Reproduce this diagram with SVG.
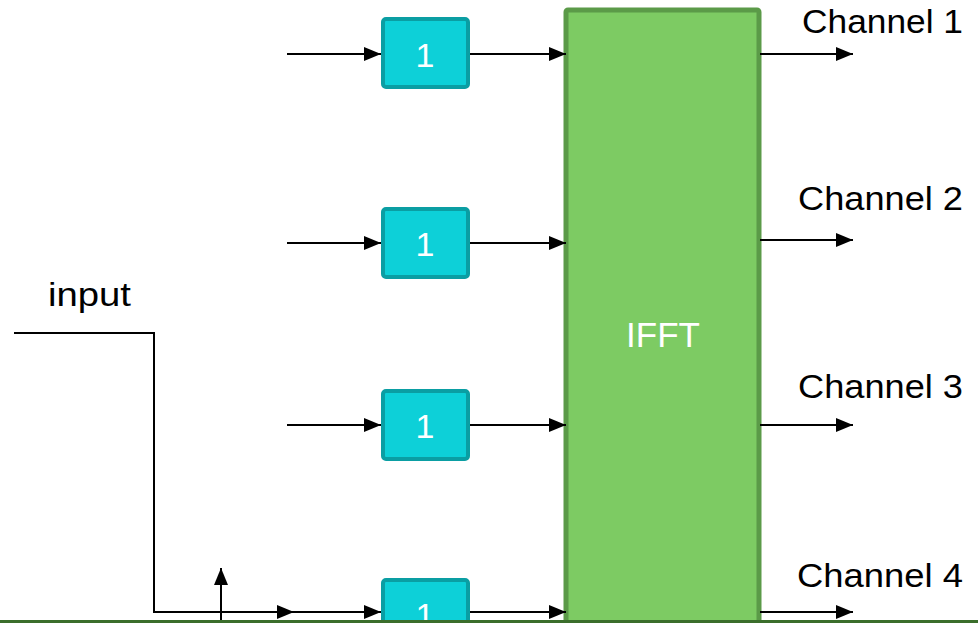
<svg xmlns="http://www.w3.org/2000/svg" width="978" height="623" viewBox="0 0 978 623">
  <defs>
    <marker id="arrow" markerWidth="17" markerHeight="14" refX="17" refY="7" orient="auto" markerUnits="userSpaceOnUse">
      <path d="M0,0 L17,7 L0,14 Z" fill="#000"/>
    </marker>
    <style>
      .wire { stroke: #000; stroke-width: 2; fill: none; }
      .gain rect { fill: #0DD0D8; stroke: #0A9EA3; stroke-width: 4; }
      .gain text { fill: #fff; font-family: "Liberation Sans", Arial, sans-serif; font-size: 34px; text-anchor: middle; }
      .label { fill: #000; font-family: "Liberation Sans", Arial, sans-serif; font-size: 33px; }
    </style>
  </defs>
  <rect width="978" height="623" fill="#fff"/>

  <!-- IFFT block -->
  <g id="ifft">
    <rect x="566" y="10" width="193" height="640" rx="2" fill="#7DCB63" stroke="#5B9A48" stroke-width="5"/>
    <text x="663" y="347" fill="#fff" font-family="Liberation Sans, Arial, sans-serif" font-size="35" text-anchor="middle">IFFT</text>
  </g>

  <!-- gain blocks -->
  <g id="gain1" class="gain">
    <rect x="383" y="19" width="85" height="68" rx="3"/>
    <text x="425" y="67">1</text>
  </g>
  <g id="gain2" class="gain">
    <rect x="383" y="209" width="85" height="68" rx="3"/>
    <text x="425" y="256">1</text>
  </g>
  <g id="gain3" class="gain">
    <rect x="383" y="391" width="85" height="68" rx="3"/>
    <text x="425" y="438">1</text>
  </g>
  <g id="gain4" class="gain">
    <rect x="383" y="580" width="85" height="68" rx="3"/>
    <text x="425" y="627">1</text>
  </g>

  <!-- connectors -->
  <g id="connectors">
    <line class="wire" x1="287" y1="54" x2="381" y2="54" marker-end="url(#arrow)"/>
    <line class="wire" x1="470" y1="54" x2="566" y2="54" marker-end="url(#arrow)"/>
    <line class="wire" x1="760" y1="54" x2="853" y2="54" marker-end="url(#arrow)"/>

    <line class="wire" x1="287" y1="243" x2="381" y2="243" marker-end="url(#arrow)"/>
    <line class="wire" x1="470" y1="243" x2="566" y2="243" marker-end="url(#arrow)"/>
    <line class="wire" x1="760" y1="240" x2="853" y2="240" marker-end="url(#arrow)"/>

    <line class="wire" x1="287" y1="425" x2="381" y2="425" marker-end="url(#arrow)"/>
    <line class="wire" x1="470" y1="425" x2="566" y2="425" marker-end="url(#arrow)"/>
    <line class="wire" x1="760" y1="425" x2="853" y2="425" marker-end="url(#arrow)"/>

    <polyline class="wire" points="14,333 154,333 154,612 294,612" marker-end="url(#arrow)"/>
    <line class="wire" x1="292" y1="612" x2="381" y2="612" marker-end="url(#arrow)"/>
    <line class="wire" x1="470" y1="612" x2="566" y2="612" marker-end="url(#arrow)"/>
    <line class="wire" x1="760" y1="612" x2="853" y2="612" marker-end="url(#arrow)"/>

    <line class="wire" x1="221" y1="623" x2="221" y2="568" marker-end="url(#arrow)"/>
  </g>

  <!-- labels -->
  <text class="label" x="802" y="33" textLength="161" lengthAdjust="spacingAndGlyphs">Channel 1</text>
  <text class="label" x="798" y="210" textLength="165" lengthAdjust="spacingAndGlyphs">Channel 2</text>
  <text class="label" x="798" y="398" textLength="165" lengthAdjust="spacingAndGlyphs">Channel 3</text>
  <text class="label" x="797" y="587" textLength="166" lengthAdjust="spacingAndGlyphs">Channel 4</text>
  <text class="label" x="48" y="306" font-size="32" textLength="83" lengthAdjust="spacingAndGlyphs">input</text>

  <!-- bottom rule -->
  <line x1="0" y1="621.5" x2="978" y2="621.5" stroke="#3B6E2B" stroke-width="3"/>
</svg>
